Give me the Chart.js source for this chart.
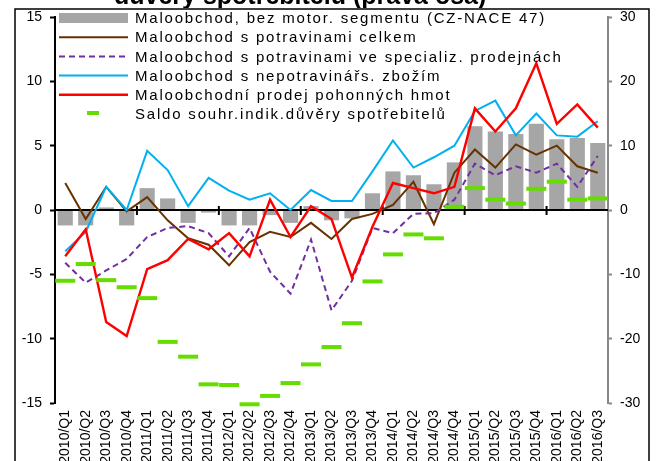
<!DOCTYPE html>
<html lang="cs">
<head>
<meta charset="UTF-8">
<title>Maloobchod</title>
<script src="https://cdn.jsdelivr.net/npm/chart.js"></script>
<style>
  html, body { margin: 0; padding: 0; background: #fff; }
  #wrap { width: 662px; height: 461px; position: relative; }
</style>
</head>
<body>
<div id="wrap"><canvas id="chart" width="662" height="461"></canvas></div>
<script>
const quarters = ['2010/Q1','2010/Q2','2010/Q3','2010/Q4','2011/Q1','2011/Q2','2011/Q3','2011/Q4',
  '2012/Q1','2012/Q2','2012/Q3','2012/Q4','2013/Q1','2013/Q2','2013/Q3','2013/Q4',
  '2014/Q1','2014/Q2','2014/Q3','2014/Q4','2015/Q1','2015/Q2','2015/Q3','2015/Q4',
  '2016/Q1','2016/Q2','2016/Q3'];

// levá osa
const retailTotal = [-1.2,-1.2,0.2,-1.2,1.7,0.9,-1.0,-0.2,-1.2,-1.2,-0.4,-1.0,0.3,-0.8,-0.65,1.3,3.0,2.7,2.0,3.7,6.5,6.1,5.9,6.7,5.5,5.6,5.2];
const foodTotal = [2.1,-0.7,1.8,-0.1,1.0,-0.8,-2.2,-2.7,-4.3,-2.5,-1.7,-2.1,-1.0,-2.25,-0.7,-0.3,0.4,2.2,-1.1,2.9,4.7,3.3,5.1,4.3,5.0,3.4,2.9];
const foodSpecial = [-4.1,-5.65,-4.7,-3.8,-2.1,-1.4,-1.25,-1.8,-3.6,-1.4,-4.8,-6.5,-2.3,-7.8,-5.5,-1.4,-1.8,-0.3,-0.25,0.8,3.6,2.7,3.4,2.9,3.6,1.8,4.2];
const nonFood = [-3.2,-1.7,1.8,0,4.6,3.1,0.3,2.5,1.5,0.8,1.3,0,1.55,0.7,0.7,3.0,5.4,3.3,4.1,5.0,7.7,8.5,5.8,7.5,5.8,5.7,6.9];
const fuel = [-3.6,-1.5,-8.7,-9.8,-4.6,-3.9,-2.25,-3.05,-1.8,-3.6,0.8,-2.1,0.3,-0.7,-5.25,-1.3,2.1,1.7,1.3,1.8,7.9,6.1,7.9,11.4,6.7,8.2,6.4];
// pravá osa
const confidence = [-11.0,-8.4,-10.9,-12.0,-13.7,-20.5,-22.8,-27.1,-27.2,-30.2,-28.9,-26.9,-24.0,-21.3,-17.6,-11.1,-6.9,-3.8,-4.4,0.5,3.4,1.6,1.0,3.3,4.4,1.6,1.8];

const leftTicks = [-15, -10, -5, 0, 5, 10, 15];
const rightTicks = [-30, -20, -10, 0, 10, 20, 30];

const FONT = "'Liberation Sans', Arial, sans-serif";

// nulová čára + značky po 4 čtvrtletích
const zeroLine = {
  id: 'zeroLine',
  afterDatasetDraw(chart, args) {
    if (args.index !== 0) return;
    const { ctx, chartArea } = chart;
    const y = chart.scales.y.getPixelForValue(0);
    const step = (chartArea.right - chartArea.left) / quarters.length;
    ctx.save();
    ctx.strokeStyle = '#000';
    ctx.lineWidth = 2;
    ctx.beginPath();
    ctx.moveTo(chartArea.left, y);
    ctx.lineTo(chartArea.right, y);
    for (let i = 4; i < quarters.length; i += 4) {
      const x = chartArea.left + i * step;
      ctx.moveTo(x, y - 4);
      ctx.lineTo(x, y + 5);
    }
    ctx.stroke();
    ctx.restore();
  }
};

const decor = {
  id: 'decor',
  afterDraw(chart) {
    const ctx = chart.ctx;
    ctx.save();
    ctx.letterSpacing = '0px';
    // titulek (oříznutý nahoře)
    ctx.fillStyle = '#000';
    ctx.font = 'bold 25px ' + FONT;
    ctx.textAlign = 'left';
    ctx.textBaseline = 'alphabetic';
    ctx.fillText('důvěry spotřebitelů (pravá osa)', 114, 4);
    // rámeček
    ctx.strokeStyle = '#000';
    ctx.lineWidth = 1.5;
    ctx.clearRect(0, 8, 662, 2);
    ctx.strokeRect(15, 9, 634, 480);

    // legenda
    ctx.font = '15px ' + FONT;
    ctx.letterSpacing = '1.8px';
    ctx.textBaseline = 'middle';
    chart.data.datasets.forEach((ds, i) => {
      const cy = 19 + i * 19.2;
      const sy = cy - 1;
      ctx.save();
      if (ds.type === 'bar') {
        ctx.fillStyle = ds.backgroundColor;
        ctx.fillRect(59, sy - 5, 69, 10);
      } else if (ds.showLine === false) {
        ctx.strokeStyle = ds.pointBorderColor;
        ctx.lineWidth = 4;
        ctx.beginPath();
        ctx.moveTo(87, sy - 1);
        ctx.lineTo(99, sy - 1);
        ctx.stroke();
      } else {
        ctx.strokeStyle = ds.borderColor;
        ctx.lineWidth = ds.borderWidth;
        ctx.setLineDash(ds.borderDash || []);
        ctx.beginPath();
        ctx.moveTo(59, sy);
        ctx.lineTo(128, sy);
        ctx.stroke();
      }
      ctx.restore();
      ctx.fillStyle = '#000';
      ctx.fillText(ds.label, 135, cy);
    });
    ctx.letterSpacing = '0px';
    ctx.restore();
  }
};

new Chart(document.getElementById('chart'), {
  data: {
    labels: quarters,
    datasets: [
      { type: 'bar', label: 'Maloobchod, bez motor. segmentu (CZ-NACE 47)', data: retailTotal,
        backgroundColor: '#a6a6a6', yAxisID: 'y', order: 10,
        barPercentage: 0.74, categoryPercentage: 1 },
      { type: 'line', label: 'Maloobchod s potravinami celkem', data: foodTotal,
        borderColor: '#663300', borderWidth: 2, pointRadius: 0, tension: 0, yAxisID: 'y', order: 5 },
      { type: 'line', label: 'Maloobchod s potravinami ve specializ. prodejnách', data: foodSpecial,
        borderColor: '#7030a0', borderWidth: 2, borderDash: [6, 4], pointRadius: 0, tension: 0, yAxisID: 'y', order: 4 },
      { type: 'line', label: 'Maloobchod s nepotravinářs. zbožím', data: nonFood,
        borderColor: '#00b0f0', borderWidth: 2, pointRadius: 0, tension: 0, yAxisID: 'y', order: 3 },
      { type: 'line', label: 'Maloobchodní prodej pohonných hmot', data: fuel,
        borderColor: '#ff0000', borderWidth: 2.4, pointRadius: 0, tension: 0, yAxisID: 'y', order: 2 },
      { type: 'line', label: 'Saldo souhr.indik.důvěry spotřebitelů', data: confidence,
        showLine: false, pointStyle: 'line', pointRadius: 10, pointBorderWidth: 4,
        pointBorderColor: '#66dd00', borderColor: '#66dd00', yAxisID: 'y1', order: 1, clip: false }
    ]
  },
  options: {
    responsive: false,
    animation: false,
    events: [],
    layout: { padding: { top: 17, left: 0, right: 0, bottom: 0 } },
    plugins: { legend: { display: false }, tooltip: { enabled: false } },
    scales: {
      x: {
        offset: true,
        grid: { display: false, drawTicks: false },
        border: { display: false },
        ticks: { autoSkip: false, minRotation: 90, maxRotation: 90, padding: 7,
          color: '#000', font: { family: FONT, size: 14 } },
        afterFit(s) { s.height = 58; }
      },
      y: {
        position: 'left', min: -15, max: 15,
        afterBuildTicks(s) { s.ticks = leftTicks.map(v => ({ value: v })); },
        grid: { drawOnChartArea: false, tickLength: 5, tickColor: '#000', tickWidth: 2 },
        border: { color: '#000', width: 2 },
        ticks: { color: '#000', padding: 8, font: { family: FONT, size: 14 } },
        afterFit(s) { s.width = 55; }
      },
      y1: {
        position: 'right', min: -30, max: 30,
        afterBuildTicks(s) { s.ticks = rightTicks.map(v => ({ value: v })); },
        grid: { drawOnChartArea: false, tickLength: 4, tickColor: '#888', tickWidth: 2 },
        border: { color: '#888', width: 2 },
        ticks: { color: '#000', padding: 8, font: { family: FONT, size: 14 } },
        afterFit(s) { s.width = 54; }
      }
    }
  },
  plugins: [zeroLine, decor]
});
</script>
</body>
</html>
